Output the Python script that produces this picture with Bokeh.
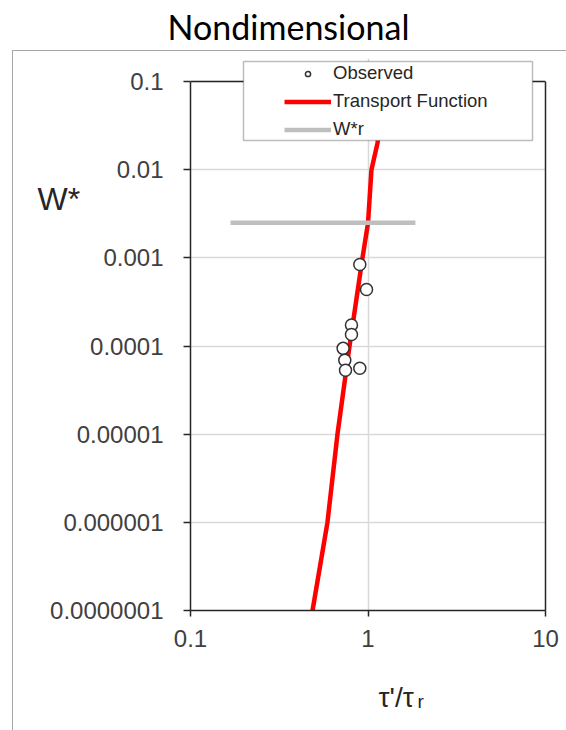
from bokeh.plotting import figure
from bokeh.models import (Range1d, FixedTicker, Label, BoxAnnotation, Legend, LegendItem,
                          LogAxis, Span)
from bokeh.embed import file_html
from bokeh.resources import INLINE

# ---- data ----
tf_x = [0.487, 0.591, 0.673, 0.787, 0.931, 1.0, 1.046, 1.131, 1.255]
tf_y = [1e-7, 1e-6, 1e-5, 1e-4, 1e-3, 0.00247, 0.01, 0.02, 0.1]

obs_x = [0.899, 0.981, 0.807, 0.807, 0.724, 0.740, 0.747, 0.899]
obs_y = [8.4e-4, 4.38e-4, 1.73e-4, 1.35e-4, 9.4e-5, 6.9e-5, 5.3e-5, 5.6e-5]

wr_x = [0.168, 1.85]
wr_y = [0.0025, 0.0025]

x_ticks = [0.1, 1, 10]
x_tick_labels = ["0.1", "1", "10"]
y_ticks = [1e-7, 1e-6, 1e-5, 1e-4, 1e-3, 1e-2, 1e-1]
y_tick_labels = ["0.0000001", "0.000001", "0.00001", "0.0001", "0.001", "0.01", "0.1"]

TEXT = "#404040"
DARK = "#262626"
FONT = "Liberation Sans"

# ---- layout in page pixels ----
W, H = 566, 730
FL, FR, FT, FB = 190, 545, 58, 610      # frame edges
AX_TOP = 81                              # pixel row of y = 0.1 (top of plot box)
DEC_Y = (FB - AX_TOP) / 6.0
DEC_X = (FR - FL) / 2.0
y_max = y_ticks[-1] * 10 ** ((AX_TOP - FT) / DEC_Y)


def px2x(px):
    return x_ticks[0] * 10 ** ((px - FL) / DEC_X)


def px2y(py):
    return y_ticks[0] * 10 ** ((FB - py) / DEC_Y)


p = figure(width=W, height=H, x_axis_type="log", y_axis_type="log",
           x_range=Range1d(x_ticks[0], x_ticks[-1]), y_range=Range1d(y_ticks[0], y_max),
           output_backend="svg", toolbar_location=None,
           min_border_left=FL, min_border_right=W - FR, min_border_top=FT,
           min_border_bottom=H - FB)
p.background_fill_color = "white"
p.border_fill_alpha = 0
p.outline_line_color = None
p.styles = {
    "background-color": "white",
    "background-image": "linear-gradient(#a6a6a6, #a6a6a6), linear-gradient(#a6a6a6, #a6a6a6)",
    "background-size": "1px 690px, 560px 1px",
    "background-position": "12px 50px, 12px 50px",
    "background-repeat": "no-repeat",
}

for ax, ticks, labels in ((p.xaxis[0], x_ticks, x_tick_labels), (p.yaxis[0], y_ticks, y_tick_labels)):
    ax.ticker = FixedTicker(ticks=ticks, minor_ticks=[])
    ax.major_label_overrides = {t: l for t, l in zip(ticks, labels)}
    ax.axis_line_color = DARK
    ax.axis_line_width = 1.5
    ax.major_tick_line_color = DARK
    ax.major_tick_line_width = 1.5
    ax.major_tick_in = 0
    ax.minor_tick_line_color = None
    ax.major_label_text_font = FONT
    ax.major_label_text_font_size = "24px"
    ax.major_label_text_color = TEXT
p.yaxis.major_tick_out = 7
p.yaxis.major_label_standoff = 20
p.yaxis.bounds = (y_ticks[0], y_ticks[-1])
p.xaxis.major_tick_out = 6
p.xaxis.major_label_standoff = 13

# right border of the plot box drawn as a bare axis
rax = LogAxis(bounds=(y_ticks[0], y_ticks[-1]), ticker=FixedTicker(ticks=[]),
              axis_line_color=DARK, axis_line_width=1.5,
              major_tick_line_color=None, minor_tick_line_color=None,
              major_label_text_font_size="0px")
p.add_layout(rax, "right")
# top border of the plot box
p.add_layout(Span(location=y_ticks[-1], dimension="width", line_color=DARK, line_width=1.5))

p.ygrid.ticker = FixedTicker(ticks=y_ticks)
p.xgrid.ticker = FixedTicker(ticks=x_ticks)
p.grid.grid_line_color = "#d9d9d9"
p.grid.grid_line_width = 1.5

# series
tf = p.line(tf_x, tf_y, line_color="#ff0000", line_width=4.5)
wr = p.line(wr_x, wr_y, line_color="#bfbfbf", line_width=4.5)
obs = p.scatter(obs_x, obs_y, marker="circle", size=12, fill_color="white",
                line_color="#333333", line_width=1.5)

# legend box (screen units from the frame's bottom-left)
p.add_layout(BoxAnnotation(left=53, right=342, top=549, bottom=470,
                           left_units="screen", right_units="screen",
                           top_units="screen", bottom_units="screen",
                           fill_color="white", fill_alpha=1.0,
                           line_color=DARK, line_width=1.5))

legend = Legend(items=[LegendItem(label="Observed", renderers=[obs]),
                       LegendItem(label="Transport Function", renderers=[tf]),
                       LegendItem(label="W*r", renderers=[wr])],
                location=(94, 470), padding=0, margin=0, spacing=6,
                glyph_width=47, glyph_height=13, label_height=20, label_standoff=2,
                label_text_font=FONT, label_text_font_size="18.5px", label_text_color=DARK,
                border_line_alpha=0, background_fill_alpha=0)
p.add_layout(legend)

# free texts placed in the side panels
p.add_layout(Label(x=px2x(288), y=px2y(26), text="Nondimensional",
                   text_font="Lato", text_font_size="34px", text_color="black",
                   text_align="center", text_baseline="middle"), "above")
p.add_layout(Label(x=px2x(37), y=px2y(198), text="W*",
                   text_font=FONT, text_font_size="32px", text_color=DARK,
                   text_align="left", text_baseline="middle"), "left")
p.add_layout(Label(x=px2x(378), y=px2y(697), text="τ'/τ",
                   text_font=FONT, text_font_size="28px", text_color=DARK,
                   text_align="left", text_baseline="alphabetic"), "below")
p.add_layout(Label(x=px2x(417), y=px2y(701), text="r",
                   text_font=FONT, text_font_size="19px", text_color=DARK,
                   text_align="left", text_baseline="alphabetic"), "below")

open("out.html", "w").write(file_html(p, INLINE))
